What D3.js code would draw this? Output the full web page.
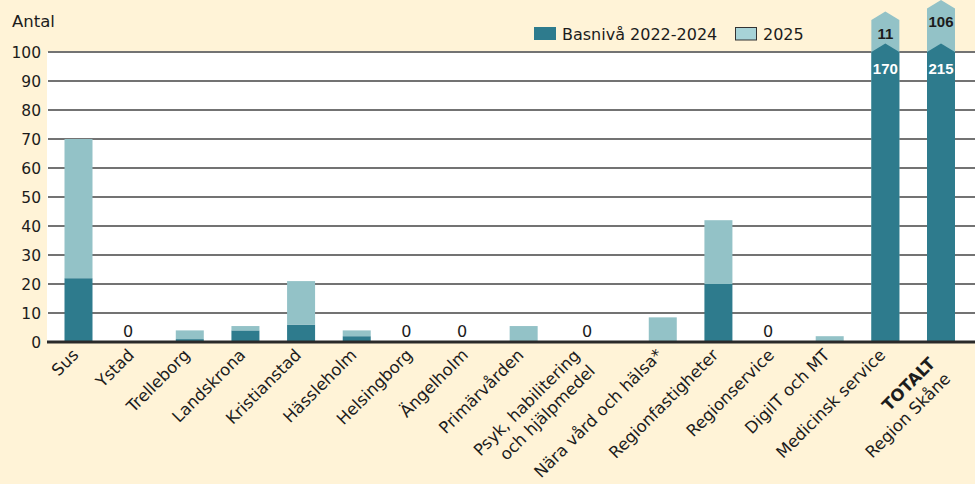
<!DOCTYPE html>
<html>
<head>
<meta charset="utf-8">
<script src="https://cdn.jsdelivr.net/npm/d3@7"></script>
<style>
  body { margin: 0; background: #fff3d7; }
  svg { display: block; }
  text { font-family: "DejaVu Sans", sans-serif; fill: #1c1c1c; }
</style>
</head>
<body>
<script>
// label lines per category (two-line labels are split)
var categories = [
  ["Sus"], ["Ystad"], ["Trelleborg"], ["Landskrona"], ["Kristianstad"],
  ["Hässleholm"], ["Helsingborg"], ["Ängelholm"], ["Primärvården"],
  ["Psyk, habilitering", "och hjälpmedel"], ["Nära vård och hälsa*"],
  ["Regionfastigheter"], ["Regionservice"], ["DigiIT och MT"],
  ["Medicinsk service"], ["TOTALT", "Region Skåne"]
];
var basniva = [22, 0, 1, 4, 6, 2, 0, 0, 0, 0, 0, 20, 0, 0, 170, 215];
var year2025 = [48, 0, 3, 1.5, 15, 2, 0, 0, 5.5, 0, 8.5, 22, 0, 2, 11, 106];
var yTicks = [0, 10, 20, 30, 40, 50, 60, 70, 80, 90, 100];
var seriesNames = ["Basnivå 2022-2024", "2025"];

var W = 975, H = 484;
var plot = {left: 47, right: 975, top: 52, bottom: 342};
var dark = "#2e7b8d", light = "#93c2c7", legendLight = "#a7d3d7";
var barW = 28, capMax = 115, tip = 8.5;

var svg = d3.select("body").append("svg").attr("width", W).attr("height", H);

// slot widths: the two-line Psyk label gets a wider slot
var weights = categories.map(function(c) { return c[0] === "Psyk, habilitering" ? 1.5 : 1; });
var acc = 0;
var slot = weights.map(function(w) { var p = acc + w / 2; acc += w; return p; });

var x = d3.scaleLinear().domain([slot[0], slot[slot.length - 1]]).range([78.5, 941]);
var y = d3.scaleLinear().domain([0, 100]).range([plot.bottom, plot.top]);

svg.append("rect")
  .attr("x", plot.left).attr("y", plot.top)
  .attr("width", plot.right - plot.left).attr("height", plot.bottom - plot.top)
  .attr("fill", "#fff");

// gridlines + tick labels
svg.append("g").selectAll("line").data(yTicks.slice(1)).enter().append("line")
  .attr("x1", plot.left + 1).attr("x2", plot.right)
  .attr("y1", function(d) { return y(d); }).attr("y2", function(d) { return y(d); })
  .attr("stroke", "#737373").attr("stroke-width", 2);

svg.append("g").selectAll("text").data(yTicks).enter().append("text")
  .attr("x", 41).attr("y", function(d) { return y(d); })
  .attr("dy", "0.36em").attr("text-anchor", "end")
  .style("font-size", "15.5px")
  .text(function(d) { return d; });

svg.append("text").attr("x", 12).attr("y", 27).style("font-size", "16.5px").text("Antal");

var data = categories.map(function(c, i) {
  return {label: c, i: i, base: basniva[i], extra: year2025[i]};
});

function chevron(cx, y0, y1) {
  // rectangle from y0 (bottom) up to shoulder y1 with a pointed top
  var h = barW / 2;
  return "M" + (cx - h) + "," + y0 + "L" + (cx - h) + "," + y1 +
    "L" + cx + "," + (y1 - tip) + "L" + (cx + h) + "," + y1 +
    "L" + (cx + h) + "," + y0 + "Z";
}

var bars = svg.append("g");
data.forEach(function(d) {
  var cx = x(slot[d.i]);
  if (d.base > 100) {
    var yL = y(Math.min(100 + d.extra, capMax));
    bars.append("path").attr("d", chevron(cx, plot.bottom, yL)).attr("fill", light);
    bars.append("path").attr("d", chevron(cx, plot.bottom, y(100))).attr("fill", dark);
    bars.append("text").attr("x", cx).attr("y", yL + 13).attr("dy", "0.36em")
      .attr("text-anchor", "middle").style("font-family", "'Liberation Sans', Arial, sans-serif")
      .style("font-size", "15px").style("font-weight", "bold")
      .text(d.extra);
    bars.append("text").attr("x", cx).attr("y", y(100) + 17).attr("dy", "0.36em")
      .attr("text-anchor", "middle").style("font-family", "'Liberation Sans', Arial, sans-serif")
      .style("font-size", "15px").style("font-weight", "bold")
      .style("fill", "#fff").text(d.base);
    return;
  }
  if (d.base > 0) {
    bars.append("rect").attr("x", cx - barW / 2).attr("width", barW)
      .attr("y", y(d.base)).attr("height", y(0) - y(d.base)).attr("fill", dark);
  }
  if (d.extra > 0) {
    bars.append("rect").attr("x", cx - barW / 2).attr("width", barW)
      .attr("y", y(d.base + d.extra)).attr("height", y(d.base) - y(d.base + d.extra))
      .attr("fill", light);
  }
  if (d.base + d.extra === 0) {
    bars.append("text").attr("x", cx - 6).attr("y", y(0) - 5.5)
      .attr("text-anchor", "middle").style("font-size", "16px").text("0");
  }
});

// baseline
svg.append("line").attr("x1", plot.left).attr("x2", plot.right)
  .attr("y1", y(0)).attr("y2", y(0)).attr("stroke", "#2a2a2a").attr("stroke-width", 3);

// x labels, rotated
var xl = svg.append("g").selectAll("g").data(data).enter().append("g")
  .attr("transform", function(d) { return "translate(" + (x(slot[d.i]) + 1) + "," + 356 + ") rotate(-45)"; });
xl.each(function(d) {
  var g = d3.select(this);
  if (d.label.length === 1) {
    g.append("text").attr("text-anchor", "end").style("font-size", "16.5px").text(d.label[0]);
  } else {
    var first = d.i === categories.length - 1 ? 2 : -9;
    d.label.forEach(function(line, k) {
      g.append("text").attr("text-anchor", "end").attr("x", -10)
        .attr("y", first + k * 21.5).style("font-size", "16.5px")
        .style("font-weight", (k === 0 && d.i === categories.length - 1) ? "bold" : null)
        .text(line);
    });
  }
});

// legend
var legend = svg.append("g");
legend.append("rect").attr("x", 534).attr("y", 27).attr("width", 22).attr("height", 13).attr("fill", dark);
legend.append("text").attr("x", 562).attr("y", 39.5).style("font-size", "16px").text(seriesNames[0]);
legend.append("rect").attr("x", 735.5).attr("y", 27.5).attr("width", 21).attr("height", 12.5)
  .attr("fill", legendLight).attr("stroke", "#333").attr("stroke-width", 1);
legend.append("text").attr("x", 763).attr("y", 39.5).style("font-size", "16px").text(seriesNames[1]);
</script>
</body>
</html>
